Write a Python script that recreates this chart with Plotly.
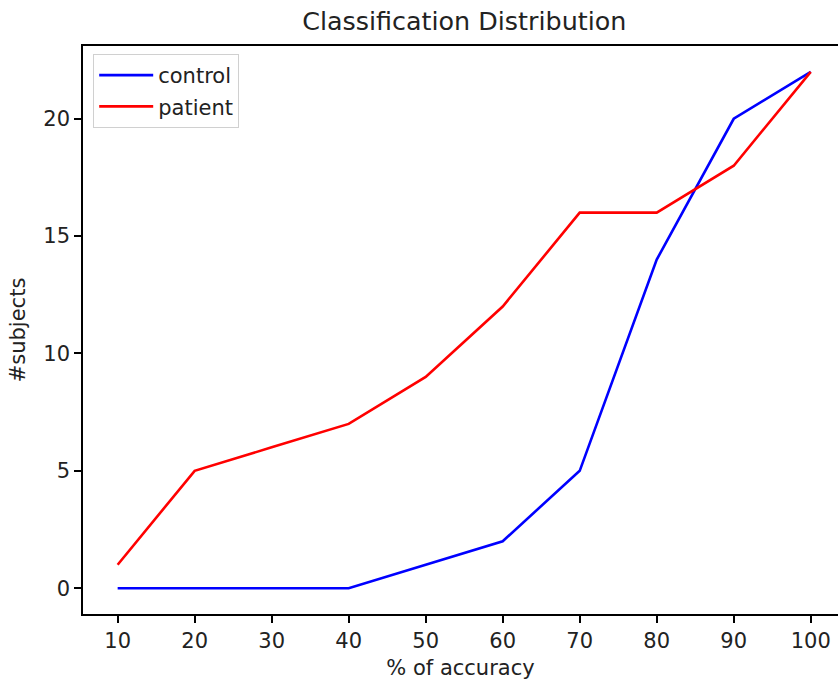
import plotly.graph_objects as go

accuracy = [10, 20, 30, 40, 50, 60, 70, 80, 90, 100]
control = [0, 0, 0, 0, 1, 2, 5, 14, 20, 22]
patient = [1, 5, 6, 7, 9, 12, 16, 16, 18, 22]
x_ticks = [10, 20, 30, 40, 50, 60, 70, 80, 90, 100]
y_ticks = [0, 5, 10, 15, 20]

FONT = "DejaVu Sans"
INK = "#000000"

fig = go.Figure()
fig.add_trace(go.Scatter(x=accuracy, y=control, mode="lines", name="control",
                         legendgroup="c", line=dict(color="#0000ff", width=2.6)))
fig.add_trace(go.Scatter(x=accuracy, y=patient, mode="lines", name="patient",
                         legendgroup="p", line=dict(color="#ff0000", width=2.6)))

fig.update_layout(
    width=838, height=681,
    margin=dict(l=83, r=0, t=46, b=67),
    paper_bgcolor="white", plot_bgcolor="white",
    font=dict(family=FONT, size=21, color="#222222"),
    title=dict(text="Classification Distribution", x=0.505, xanchor="center",
               xref="paper", y=1 - 21/681, yanchor="middle",
               font=dict(size=25.4, color="#222222")),
    showlegend=True,
    legend=dict(x=0.0135, y=0.986, xanchor="left", yanchor="top",
                bgcolor="rgba(255,255,255,0.8)", bordercolor="#d0d0d0", borderwidth=1,
                font=dict(size=21, color="#222222"), tracegroupgap=1,
                itemwidth=54, entrywidth=150, entrywidthmode="pixels"),
    xaxis=dict(range=[5.5, 103.54], tickvals=x_ticks, ticks="outside", ticklen=7,
               tickwidth=1.6, tickcolor=INK, showline=True, linecolor=INK, linewidth=1.6,
               mirror=True, showgrid=False, zeroline=False,
               title=dict(text="% of accuracy", standoff=8, font=dict(size=21))),
    yaxis=dict(range=[-1.1, 23.1], tickvals=y_ticks, ticks="outside", ticklen=7,
               tickwidth=1.6, tickcolor=INK, showline=True, linecolor=INK, linewidth=1.6,
               mirror=False, showgrid=False, zeroline=False,
               title=dict(text="#subjects", standoff=12, font=dict(size=21))),
)

fig.write_html("out.html")
